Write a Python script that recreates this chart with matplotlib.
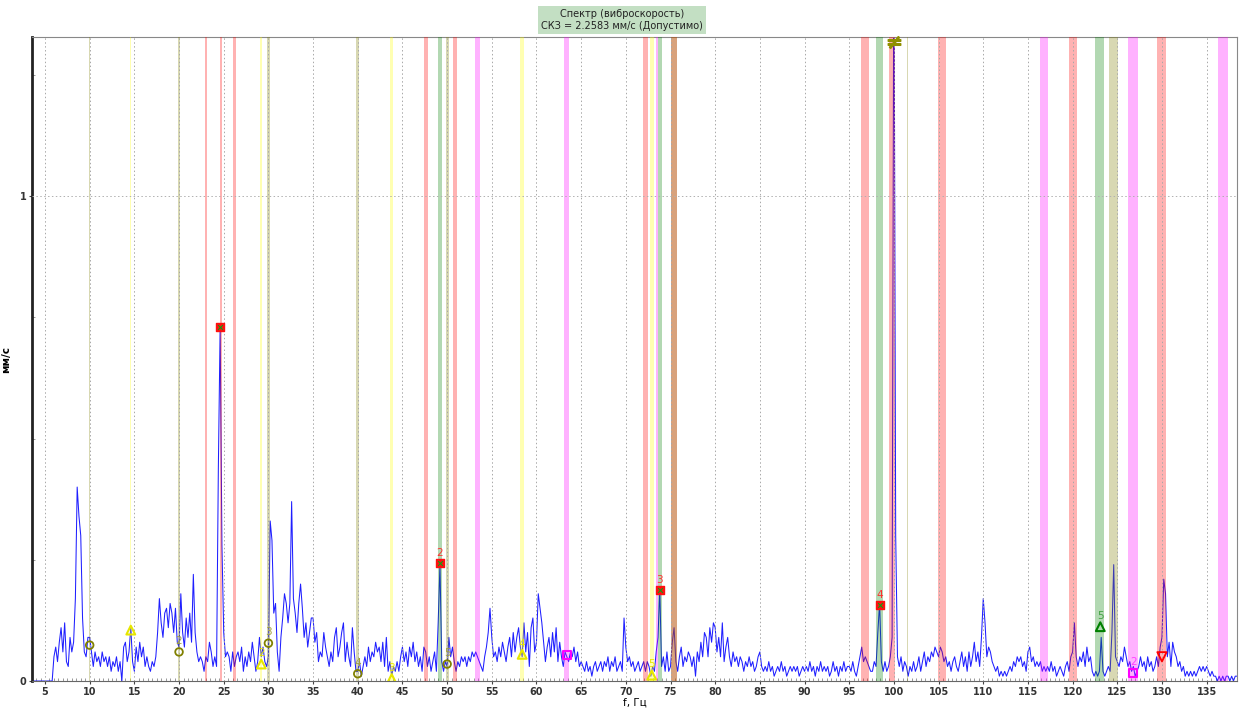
import numpy as np
import matplotlib
matplotlib.use('Agg')
import matplotlib.pyplot as plt

plt.rcParams['font.family'] = ['DejaVu Sans']

# spectrum, 0.2 Hz bins from 3.6 to 138.4 Hz, amplitude in mm/s
f_start = 3.6
f_step = 0.2
amp_head = [0, 0, 0, 0, 0, 0, 0]
r05 = [0, 0, 0, 0, 0, .05, .07, .04, .08, .11, .06, .12, .04, .03, .09, .06, .08, .17, .40, .34, .30, .13, .06, .05, .09]
r10 = [.09, .06, .03, .06, .04, .05, .03, .06, .04, .05, .03, .05, .02, .04, .03, .05, .02, .04, .00, .07, .08, .04, .06, .11, .04]
r15 = [.02, .07, .04, .08, .05, .07, .03, .05, .03, .02, .04, .03, .05, .10, .17, .12, .09, .14, .15, .11, .16, .14, .10, .15, .08]
r20 = [.07, .18, .10, .07, .13, .09, .14, .08, .22, .10, .06, .04, .05, .04, .02, .05, .04, .08, .06, .03, .05, .03, .44, .73, .28]
r25 = [.10, .05, .06, .05, .02, .06, .03, .05, .06, .04, .07, .02, .05, .03, .06, .04, .08, .05, .02, .04, .09, .05, .07, .04, .03]
r30 = [.05, .33, .29, .14, .16, .06, .02, .09, .13, .18, .16, .12, .16, .37, .17, .14, .10, .16, .20, .15, .09, .12, .07, .10, .13]
r35 = [.13, .08, .10, .04, .06, .05, .10, .07, .05, .03, .06, .04, .09, .11, .05, .07, .10, .12, .04, .08, .05, .03, .11, .06, .02]
r40 = [.02, .04, .01, .03, .05, .03, .07, .04, .06, .05, .08, .06, .07, .04, .08, .03, .09, .02, .04, .01, .03, .02, .04, .02, .05]
r45 = [.07, .04, .06, .03, .07, .05, .08, .04, .06, .03, .05, .02, .07, .06, .03, .05, .02, .04, .06, .02, .12, .24, .04, .02, .04]
r50 = [.03, .09, .05, .07, .04, .02, .04, .03, .05, .04, .05, .03, .05, .04, .06, .05, .06, .05, .04, .03, .02, .05, .07, .10, .15]
r55 = [.09, .05, .06, .04, .07, .05, .08, .06, .04, .07, .09, .05, .10, .06, .09, .11, .07, .05, .12, .06, .10, .03, .11, .13, .06]
r60 = [.08, .18, .15, .12, .08, .04, .07, .09, .05, .10, .06, .11, .04, .08, .05, .03, .06, .05, .04, .06, .05, .07, .04, .06, .03]
r65 = [.04, .03, .02, .04, .02, .03, .01, .03, .04, .02, .03, .04, .02, .04, .03, .05, .02, .04, .03, .05, .02, .03, .04, .02, .13]
r70 = [.07, .04, .05, .03, .04, .02, .03, .04, .02, .03, .04, .02, .04, .03, .01, .03, .02, .06, .09, .19, .03, .05, .02, .06, .02]
r75 = [.03, .08, .11, .04, .02, .05, .07, .03, .05, .04, .06, .05, .03, .05, .01, .06, .04, .08, .05, .10, .09, .05, .11, .08, .12]
r80 = [.11, .06, .09, .05, .12, .04, .07, .09, .05, .03, .06, .04, .05, .03, .05, .04, .02, .04, .03, .05, .03, .04, .02, .03, .05]
r85 = [.06, .03, .02, .03, .02, .04, .02, .03, .01, .02, .03, .02, .04, .02, .03, .01, .02, .03, .02, .03, .02, .03, .01, .02, .03]
r90 = [.02, .03, .02, .04, .02, .03, .01, .03, .02, .04, .02, .03, .02, .03, .01, .02, .04, .02, .03, .01, .03, .02, .04, .02, .03]
r95 = [.03, .02, .04, .02, .01, .03, .05, .07, .04, .05, .04, .03, .02, .02, .04, .03, .10, .16, .04, .02, .04, .02, .03, .05, .09]
r100 = [1.6, .30, .05, .03, .05, .02, .04, .03, .01, .03, .02, .04, .02, .03, .05, .02, .04, .06, .03, .05, .04, .06, .05, .07, .06]
r105 = [.05, .07, .06, .04, .05, .03, .04, .02, .04, .05, .03, .02, .04, .06, .03, .05, .02, .06, .03, .05, .08, .04, .06, .03, .09]
r110 = [.17, .12, .05, .07, .06, .04, .03, .02, .03, .01, .02, .01, .02, .01, .02, .03, .02, .04, .03, .05, .04, .05, .03, .04, .02]
r115 = [.06, .07, .04, .05, .03, .04, .03, .04, .02, .03, .02, .03, .02, .04, .02, .03, .01, .02, .03, .02, .01, .03, .04, .02, .05]
r120 = [.06, .12, .05, .03, .05, .04, .06, .03, .07, .04, .05, .02, .01, .02, .01, .02, .09, .02, .01, .02, .03, .02, .10, .24, .05]
r125 = [.04, .03, .05, .04, .07, .05, .03, .04, .02, .03, .01, .02, .03, .05, .03, .04, .02, .05, .03, .04, .02, .03, .05, .03, .07]
r130 = [.09, .21, .18, .05, .08, .03, .08, .06, .05, .03, .04, .02, .03, .01, .02, .01, .02, .01, .02, .01, .02, .03, .02, .03, .02]
r135 = [.03, .02, .01, .02, .01, .01, .00, .01, .00, .01, .00, .01, .01, .00, .01, .00, .01, .01]

amp = np.array(amp_head + r05 + r10 + r15 + r20 + r25 + r30 + r35 + r40 + r45 + r50 + r55 + r60
               + r65 + r70 + r75 + r80 + r85 + r90 + r95 + r100 + r105 + r110 + r115 + r120
               + r125 + r130 + r135)
freq = np.round(f_start + f_step * np.arange(len(amp)), 1)

# frequency bands: centre, width (Hz), colour
band_f = [10.0, 20.0, 30.0, 40.0, 50.0, 124.6, 101.5,
          14.6, 29.2, 43.8, 58.4, 72.9,
          23.0, 24.65, 26.2, 47.6, 50.85, 72.2, 75.35, 96.8, 99.8, 105.4, 120.0, 130.0,
          49.2, 73.85, 98.4, 123.0,
          53.45, 63.35, 73.5, 116.8, 126.8, 136.8,
          75.35]
band_w = [0.15, 0.2, 0.3, 0.35, 0.35, 1.0, 0.08,
          0.12, 0.2, 0.35, 0.45, 0.4,
          0.15, 0.22, 0.3, 0.45, 0.45, 0.55, 0.65, 0.9, 0.7, 0.9, 0.9, 1.0,
          0.35, 0.45, 0.75, 1.0,
          0.55, 0.55, 0.3, 1.0, 1.1, 1.1,
          0.65]
band_c = ['olive'] * 7 + ['yellow'] * 5 + ['red'] * 12 + ['green'] * 4 + ['magenta'] * 6 + ['olive']

# markers
m_red_f = [24.6, 49.2, 73.8, 98.4]
m_red_a = [0.73, 0.243, 0.188, 0.157]
m_red_lbl = ['', '2', '3', '4']
m_yel_f = [14.6, 29.2, 43.8, 58.4, 72.9]
m_yel_a = [0.105, 0.035, 0.005, 0.055, 0.012]
m_yel_lbl = ['', '2', '3', '4', '5']
m_olv_f = [10.0, 20.0, 30.0, 40.0, 50.0]
m_olv_a = [0.074, 0.06, 0.078, 0.015, 0.035]
m_olv_lbl = ['', '2', '3', '4', '5']
m_mag_f = [63.4, 126.8]
m_mag_a = [0.054, 0.017]
m_mag_lbl = ['', '2']
m_grn_f = [123.1]
m_grn_a = [0.112]
m_grn_lbl = ['5']
m_rdn_f = [130.0]
m_rdn_a = [0.05]

x_ticks = list(range(5, 140, 5))
title_txt = 'Спектр (виброскорость)\nСКЗ = 2.2583 мм/с (Допустимо)'

fig = plt.figure(figsize=(12.47, 7.08), dpi=100)
ax = fig.add_axes([0.0257, 0.0381, 0.9663, 0.9096])
ax.set_xlim(3.55, 138.4)
ax.set_ylim(0, 1.328)

ax.plot(freq, amp, color='#1f1fff', lw=0.75, zorder=2)

for c, w, col in zip(band_f, band_w, band_c):
    ax.axvspan(c - w / 2, c + w / 2, color=col, alpha=0.3, lw=0, zorder=3)

for xt in x_ticks:
    ax.axvline(xt, color='#a8a8a8', lw=0.7, ls=(0, (1.5, 2.5)), zorder=4)
ax.axhline(1, color='#b0b0b0', lw=0.7, ls=(0, (1.5, 2.5)), zorder=4)

lbl_kw = dict(ha='center', va='bottom', fontsize=7.5, zorder=7)
ax.scatter(m_red_f, m_red_a, marker='s', s=26, color='#ff1010', zorder=6)
ax.scatter(m_red_f, m_red_a, marker='x', s=12, color='#10a010', lw=0.8, zorder=6)
for f, a, t in zip(m_red_f, m_red_a, m_red_lbl):
    ax.text(f, a + 0.01, t, color='#ff3030', **lbl_kw)
ax.scatter(m_yel_f, m_yel_a, marker='^', s=40, facecolor='none', edgecolor='#e6e600', lw=1.5, zorder=6)
for f, a, t in zip(m_yel_f, m_yel_a, m_yel_lbl):
    ax.text(f, a + 0.012, t, color='#e6e600', **lbl_kw)
ax.scatter(m_olv_f, m_olv_a, marker='o', s=30, facecolor='none', edgecolor='#808000', lw=1.3, zorder=6)
for f, a, t in zip(m_olv_f, m_olv_a, m_olv_lbl):
    ax.text(f, a + 0.012, t, color='#a0a040', **lbl_kw)
ax.scatter(m_mag_f, m_mag_a, marker='s', s=35, facecolor='none', edgecolor='#ff00ff', lw=1.5, zorder=6)
for f, a, t in zip(m_mag_f, m_mag_a, m_mag_lbl):
    ax.text(f, a + 0.012, t, color='#ff40ff', **lbl_kw)
ax.scatter(m_grn_f, m_grn_a, marker='^', s=40, facecolor='none', edgecolor='#008000', lw=1.5, zorder=6)
for f, a, t in zip(m_grn_f, m_grn_a, m_grn_lbl):
    ax.text(f, a + 0.012, t, color='#40a040', **lbl_kw)
ax.scatter(m_rdn_f, m_rdn_a, marker='v', s=45, facecolor='none', edgecolor='red', lw=1.3, zorder=6)
ax.plot([100.0], [1.318], marker=r'$\neq$', ms=9, color='#909000', clip_on=False, zorder=7)

ax.set_xticks(x_ticks)
ax.set_xticks(np.arange(4, 138.5, 0.5), minor=True)
ax.set_yticks([0, 1])
ax.set_yticks([0.25, 0.5, 0.75, 1.25], minor=True)
ax.set_yticklabels(['0', '1'])
ax.tick_params(axis='both', which='major', labelsize=7, length=2, colors='#444444', pad=2)
ax.tick_params(axis='x', which='minor', length=2, direction='in', colors='#888888')
ax.tick_params(axis='y', which='minor', length=2, direction='in', colors='#888888')
for lb in ax.get_xticklabels() + ax.get_yticklabels():
    lb.set_fontweight('bold')
    lb.set_color('#333333')

for s in ['top', 'right']:
    ax.spines[s].set_color('#888888')
ax.spines['bottom'].set_color('#666666')
ax.spines['left'].set_color('#222222')
ax.spines['left'].set_linewidth(2)

ax.set_xlabel('f, Гц', fontsize=7.5, labelpad=1)
ax.set_ylabel('мм/с', fontsize=7.5, fontweight='bold', labelpad=6)

fig.text(0.499, 0.9715, title_txt, ha='center', va='center', fontsize=7, linespacing=1.25,
         color='#222222',
         bbox=dict(boxstyle='square,pad=0.3', facecolor='#c3dfc3', edgecolor='none'))

fig.savefig('out.png', dpi=100)
